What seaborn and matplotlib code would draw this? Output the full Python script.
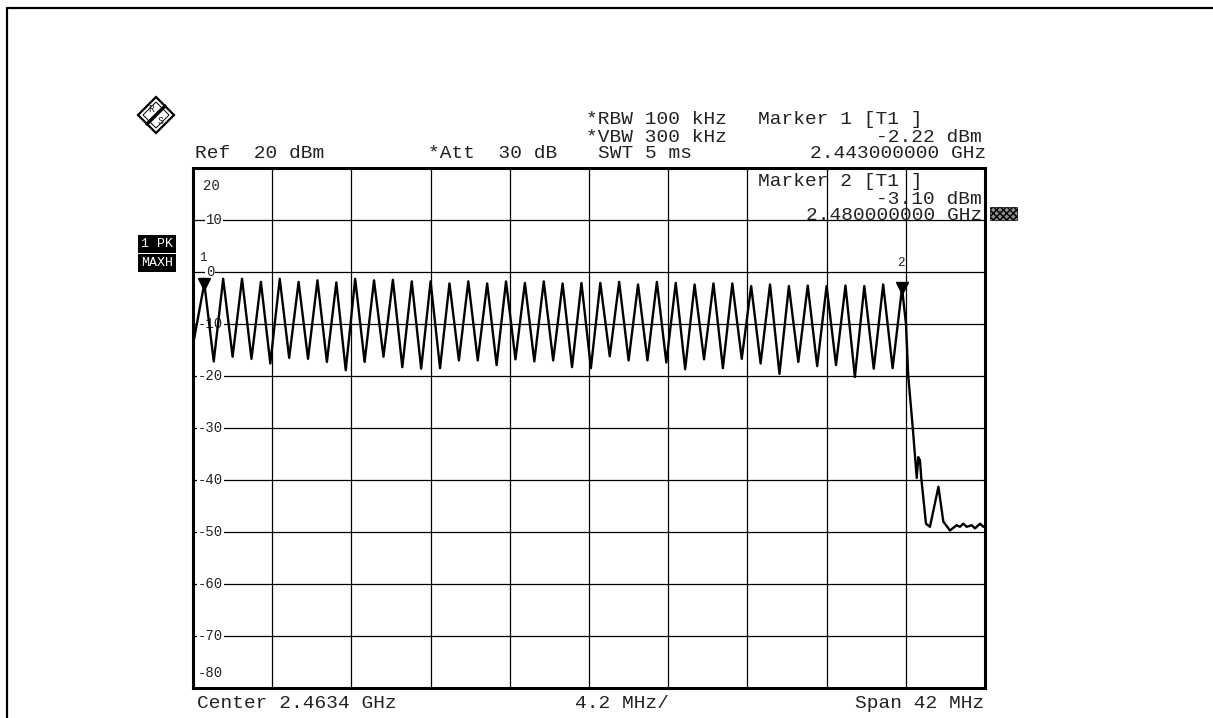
import matplotlib.pyplot as plt
import pandas as pd
import seaborn as sns
from matplotlib.lines import Line2D
from matplotlib.patches import Polygon, Rectangle
from matplotlib.transforms import blended_transform_factory

# channel peaks, 1 MHz apart (MHz, dBm)
peak_mhz = [2443, 2444, 2445, 2446, 2447, 2448, 2449, 2450, 2451, 2452,
            2453, 2454, 2455, 2456, 2457, 2458, 2459, 2460, 2461, 2462,
            2463, 2464, 2465, 2466, 2467, 2468, 2469, 2470, 2471, 2472,
            2473, 2474, 2475, 2476, 2477, 2478, 2479, 2480]
peak_dbm = [-2.2, -1.3, -1.3, -1.9, -1.3, -1.9, -1.6, -2.0, -1.3, -1.6,
            -1.5, -1.8, -1.8, -2.2, -1.8, -2.2, -1.8, -2.1, -1.8, -2.2,
            -2.1, -2.1, -1.9, -2.4, -1.9, -2.1, -2.4, -2.2, -2.2, -2.7,
            -2.4, -2.7, -2.6, -2.7, -2.6, -2.7, -2.4, -3.1]

# dips between the channels
dip_mhz = [2443.5, 2444.5, 2445.5, 2446.5, 2447.5, 2448.5, 2449.5, 2450.5,
           2451.5, 2452.5, 2453.5, 2454.5, 2455.5, 2456.5, 2457.5, 2458.5,
           2459.5, 2460.5, 2461.5, 2462.5, 2463.5, 2464.5, 2465.5, 2466.5,
           2467.5, 2468.5, 2469.5, 2470.5, 2471.5, 2472.5, 2473.5, 2474.5,
           2475.5, 2476.5, 2477.5, 2478.5, 2479.5]
dip_dbm = [-17.2, -16.3, -16.7, -17.6, -16.5, -16.7, -17.3, -18.9, -17.3,
           -16.3, -18.3, -18.6, -18.5, -17.0, -17.0, -17.9, -16.8, -17.2,
           -17.0, -18.3, -18.5, -16.2, -17.0, -17.0, -17.4, -18.7, -16.8,
           -18.5, -16.7, -17.6, -19.6, -17.3, -18.1, -17.9, -20.2, -18.6,
           -18.5]

# left edge of the trace and roll-off above the band
start_mhz = [2442.4]
start_dbm = [-14.0]
tail_mhz = [2480.21, 2480.33, 2480.57, 2480.78, 2480.86, 2480.95, 2481.02,
            2481.27, 2481.48, 2481.93, 2482.19, 2482.54, 2482.90, 2483.07,
            2483.25, 2483.43, 2483.69, 2483.87, 2484.14, 2484.31, 2484.40]
tail_dbm = [-10.0, -20.0, -30.0, -39.6, -35.6, -36.2, -39.6, -48.4, -49.0,
            -41.3, -48.0, -49.7, -48.7, -49.0, -48.4, -49.0, -48.7, -49.3,
            -48.4, -49.0, -48.8]

marker_mhz = [2443.0, 2480.0]
marker_dbm = [-2.22, -3.10]
marker_names = ['1', '2']

grid_mhz = [2442.4, 2446.6, 2450.8, 2455.0, 2459.2, 2463.4, 2467.6,
            2471.8, 2476.0, 2480.2, 2484.4]
level_ticks = [20, 10, 0, -10, -20, -30, -40, -50, -60, -70, -80]
level_labels = ['20', '10', '0', '-10', '-20', '-30', '-40', '-50', '-60',
                '-70', '-80']

W, H = 1213, 718


def main():
    sns.set_theme(style='white')
    plt.rcParams['font.family'] = ['Liberation Mono', 'DejaVu Sans']

    fig = plt.figure(figsize=(W / 100, H / 100), dpi=100)
    fig.patch.set_facecolor('white')

    def put(x, y, s, **kw):
        kw.setdefault('fontsize', 14)
        kw.setdefault('color', '#222222')
        kw.setdefault('va', 'center')
        fig.text(x / W, 1 - y / H, s, **kw)

    ax = fig.add_axes([193 / W, 1 - 688 / H, 792 / W, 520 / H])

    # build the trace: start, peak/dip pairs, roll-off
    freq = list(start_mhz)
    level = list(start_dbm)
    for i in range(len(peak_mhz)):
        freq.append(peak_mhz[i])
        level.append(peak_dbm[i])
        if i < len(dip_mhz):
            freq.append(dip_mhz[i])
            level.append(dip_dbm[i])
    freq += tail_mhz
    level += tail_dbm
    trace = pd.DataFrame({'freq': freq, 'level': level})

    sns.lineplot(data=trace, x='freq', y='level', sort=False,
                 estimator=None, color='black', linewidth=1.7,
                 solid_joinstyle='round', zorder=4, ax=ax)

    ax.set_xlim(grid_mhz[0], grid_mhz[-1])
    ax.set_ylim(level_ticks[-1], level_ticks[0])
    ax.set_xticks(grid_mhz)
    ax.set_yticks(level_ticks)
    ax.tick_params(length=0, labelbottom=False, labelleft=False)
    ax.set_xlabel('')
    ax.set_ylabel('')
    ax.set_axisbelow(True)
    ax.grid(True, color='black', linewidth=0.9)
    for sp in ax.spines.values():
        sp.set_color('black')
        sp.set_linewidth(2.2)

    # level labels inside the left edge
    trans = blended_transform_factory(ax.transAxes, ax.transData)
    box = dict(fc='white', ec='none', pad=0.6)
    for val, lab in zip(level_ticks, level_labels):
        if val == level_ticks[0]:
            ax.annotate(lab, (0.012, val), xycoords=trans,
                        xytext=(0, -8), textcoords='offset points',
                        va='top', fontsize=10, color='#222222', zorder=3)
        elif val == level_ticks[-1]:
            ax.annotate(lab, (0.006, val), xycoords=trans,
                        xytext=(0, 6), textcoords='offset points',
                        va='bottom', fontsize=10, color='#222222', zorder=3)
        else:
            x0 = 0.016 if not lab.startswith('-') else 0.006
            ax.text(x0, val, lab, transform=trans, va='center',
                    fontsize=10, color='#222222', bbox=box, zorder=3)

    # markers
    for mf, md, name in zip(marker_mhz, marker_dbm, marker_names):
        ax.plot([mf], [md], marker='v', color='black', markersize=8,
                zorder=5)
        ax.annotate(name, (mf, md), xytext=(-1, 14),
                    textcoords='offset points', ha='center', va='bottom',
                    fontsize=9, color='#222222', zorder=5)

    # header
    put(195, 153, 'Ref  20 dBm')
    put(428, 153, '*Att  30 dB')
    put(586, 120, '*RBW 100 kHz')
    put(586, 137, '*VBW 300 kHz')
    put(598, 154, 'SWT 5 ms')
    put(758, 120, 'Marker 1 [T1 ]')
    put(982, 137, '-2.22 dBm', ha='right')
    put(986, 154, '2.443000000 GHz', ha='right')

    put(758, 181, 'Marker 2 [T1 ]')
    put(982, 199, '-3.10 dBm', ha='right')
    put(982, 216, '2.480000000 GHz', ha='right')

    # footer
    put(197, 703, 'Center 2.4634 GHz')
    put(575, 703, '4.2 MHz/')
    put(984, 703, 'Span 42 MHz', ha='right')

    # trace mode boxes
    put(141, 244, '1 PK', color='white', fontsize=9.5,
        bbox=dict(fc='black', ec='none', pad=1.8))
    put(141, 263, 'MAXH', color='white', fontsize=9.5,
        bbox=dict(fc='black', ec='none', pad=1.8))

    # small hatched status box at the right
    fig.add_artist(Rectangle((990 / W, 1 - 220 / H), 27 / W, 13 / H,
                             transform=fig.transFigure, fc='0.55',
                             ec='black', hatch='xxxxx', lw=0.5))

    # R&S logo
    def pts(coords):
        return [(x / W, 1 - y / H) for x, y in coords]

    fig.add_artist(Polygon(pts([(156, 97), (174, 115), (156, 133),
                                (138, 115)]), closed=True,
                           transform=fig.transFigure, fc='white',
                           ec='black', lw=1.6))
    fig.add_artist(Polygon(pts([(156, 102), (169, 115), (156, 128),
                                (143, 115)]), closed=True,
                           transform=fig.transFigure, fc='none',
                           ec='black', lw=0.7))
    fig.add_artist(Line2D([147 / W, 165 / W], [1 - 124 / H, 1 - 106 / H],
                          transform=fig.transFigure, color='black', lw=2.5))
    put(151, 109, 'R', fontsize=7, ha='center')
    put(161, 121, 'S', fontsize=7, ha='center')

    # page border from the scan
    fig.add_artist(Line2D([7 / W, 7 / W], [0, 1 - 8 / H],
                          transform=fig.transFigure, color='black', lw=1.6))
    fig.add_artist(Line2D([7 / W, 1], [1 - 8 / H, 1 - 8 / H],
                          transform=fig.transFigure, color='black', lw=1.6))

    fig.savefig('out.png', dpi=100)


if __name__ == '__main__':
    main()
